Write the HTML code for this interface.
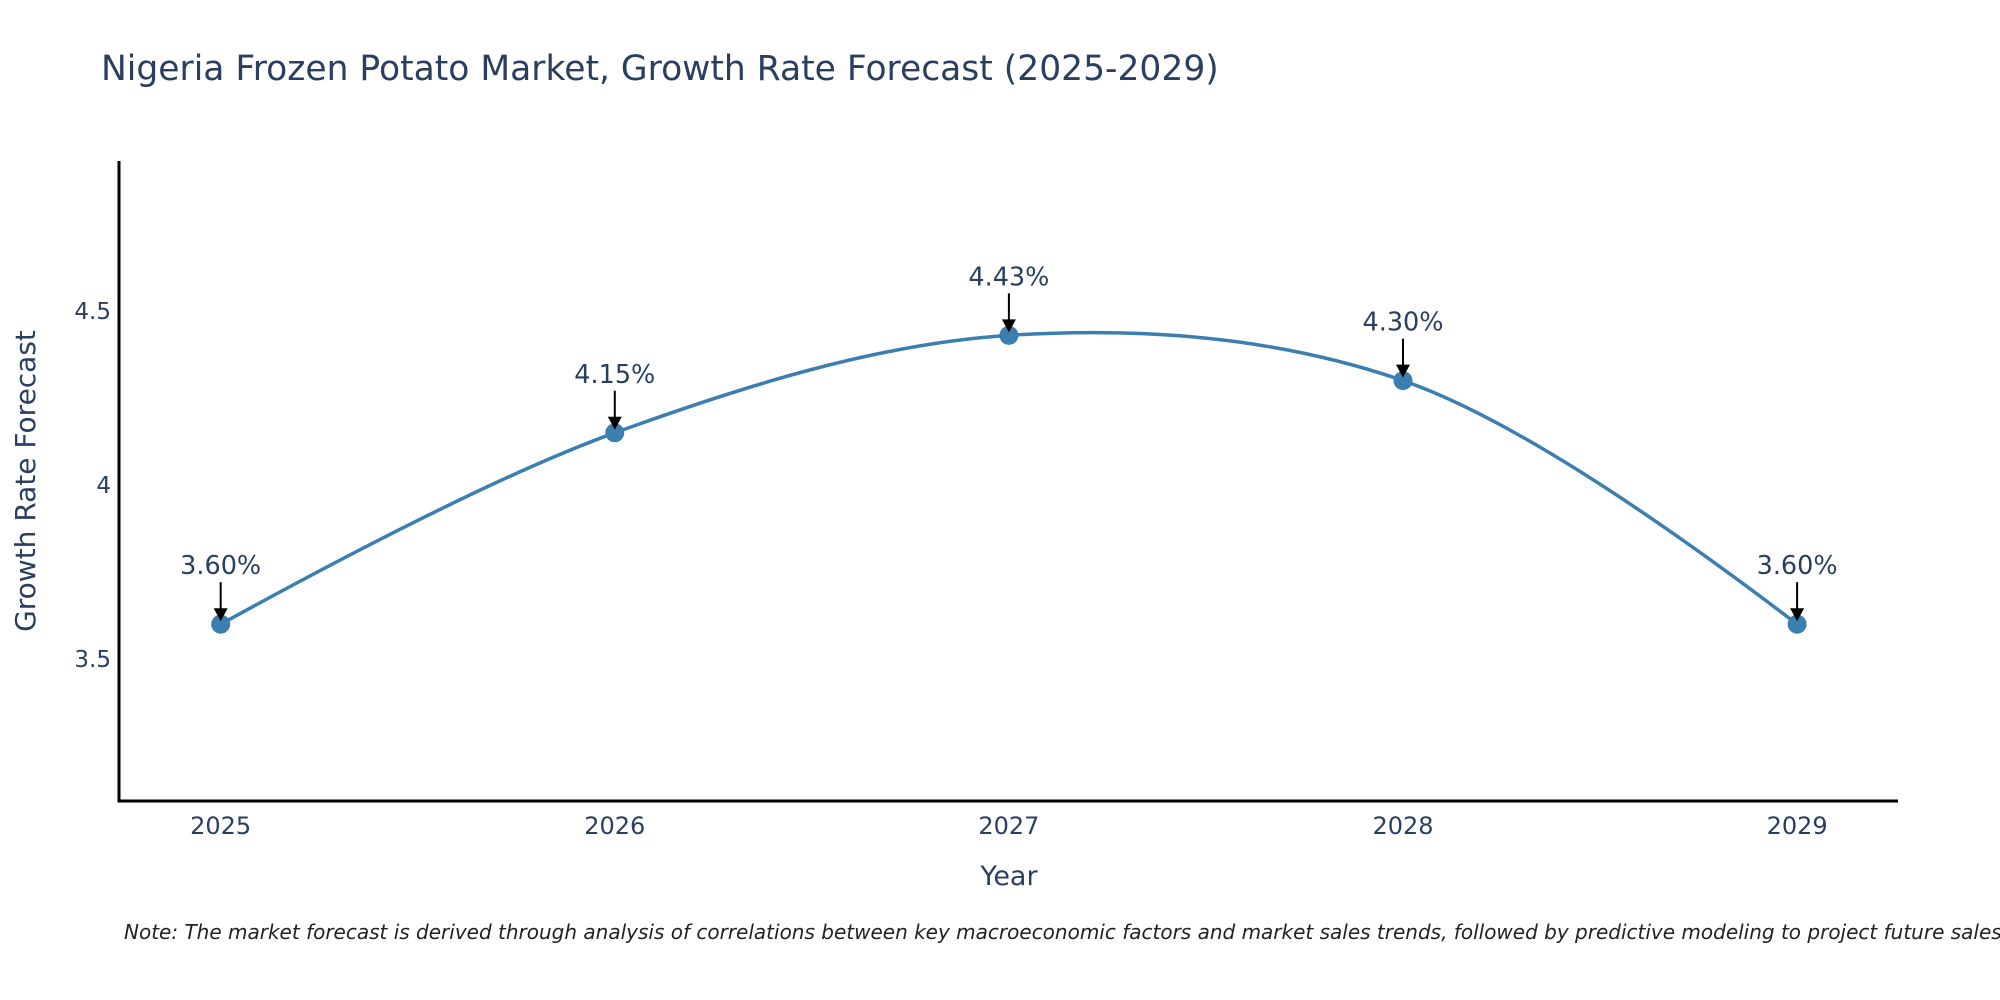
<!DOCTYPE html>
<html><head><meta charset="utf-8"><style>
html,body{margin:0;padding:0;background:#fff;overflow:hidden;}
svg{display:block;font-family:"DejaVu Sans","Liberation Sans",sans-serif;}
</style></head><body>
<svg width="2000" height="1000" viewBox="0 0 2000 1000">
<text x="101" y="80" font-size="34.5" fill="#2a3f5f">Nigeria Frozen Potato Market, Growth Rate Forecast (2025-2029)</text>
<g id="plot"></g>
<text x="1009" y="885" font-size="27" fill="#2a3f5f" text-anchor="middle">Year</text>
<text transform="translate(35,481) rotate(-90)" font-size="28" fill="#2a3f5f" text-anchor="middle">Growth Rate Forecast</text>
<text x="124" y="939" font-size="20" font-style="italic" fill="#222">Note: The market forecast is derived through analysis of correlations between key macroeconomic factors and market sales trends, followed by predictive modeling to project future sales.</text>
</svg>
<script>
const years = [2025, 2026, 2027, 2028, 2029];
const growth = [3.60, 4.15, 4.43, 4.30, 3.60];
const labels = ["3.60%", "4.15%", "4.43%", "4.30%", "3.60%"];
const yTicks = [3.5, 4, 4.5];
const yTickLabels = ["3.5", "4", "4.5"];

const NS = "http://www.w3.org/2000/svg";
const g = document.getElementById('plot');
const L = 119, R = 1898, T = 161, B = 801;
const xMin = 2024.742, xMax = 2029.256, yMin = 3.092, yMax = 4.931;
const xs = v => L + (v - xMin) / (xMax - xMin) * (R - L);
const ys = v => B - (v - yMin) / (yMax - yMin) * (B - T);
function mk(tag, attrs) { const e = document.createElementNS(NS, tag); for (const k in attrs) e.setAttribute(k, attrs[k]); g.appendChild(e); return e; }

let e;
e = mk('line', {x1: L, y1: T, x2: L, y2: B + 1.5, stroke: '#000', 'stroke-width': 3});


e = mk('line', {x1: L - 1.5, y1: B, x2: R, y2: B, stroke: '#000', 'stroke-width': 3});



yTicks.forEach((t, i) => {
  const el = mk('text', {x: L - 8, y: ys(t) + 8, 'font-size': 23, fill: '#2a3f5f', 'text-anchor': 'end'});
  el.textContent = yTickLabels[i];
  
  
});
years.forEach(y => {
  const el = mk('text', {x: xs(y), y: 834, 'font-size': 24, fill: '#2a3f5f', 'text-anchor': 'middle'});
  el.textContent = String(y);
  
  
});

const pts = years.map((y, i) => [xs(y), ys(growth[i])]);
function tangent(p, c, n, s) {
  const d1x = p[0]-c[0], d1y = p[1]-c[1], d2x = n[0]-c[0], d2y = n[1]-c[1];
  const d1a = Math.pow(d1x*d1x+d1y*d1y, 0.25), d2a = Math.pow(d2x*d2x+d2y*d2y, 0.25);
  const nx = (d2a*d2a*d1x - d1a*d1a*d2x)*s, ny = (d2a*d2a*d1y - d1a*d1a*d2y)*s;
  const den1 = 3*d2a*(d1a+d2a), den2 = 3*d1a*(d1a+d2a);
  return [[c[0]+nx/den1, c[1]+ny/den1], [c[0]-nx/den2, c[1]-ny/den2]];
}
const tg = [];
for (let i = 1; i < pts.length - 1; i++) tg.push(tangent(pts[i-1], pts[i], pts[i+1], 1));
let d = 'M' + pts[0] + 'Q' + tg[0][0] + ' ' + pts[1];
for (let i = 2; i < pts.length - 1; i++) d += 'C' + tg[i-2][1] + ' ' + tg[i-1][0] + ' ' + pts[i];
d += 'Q' + tg[pts.length-3][1] + ' ' + pts[pts.length-1];
e = mk('path', {d: d, fill: 'none', stroke: '#3b7fb0', 'stroke-width': 3.5});



pts.forEach((p, i) => {
  const c = mk('circle', {cx: p[0], cy: p[1], r: 9.5, fill: '#3b7fb0'});
  
  
  const a = mk('line', {x1: p[0], y1: p[1] - 42, x2: p[0], y2: p[1] - 14, stroke: '#000', 'stroke-width': 2});
  
  
  const h = mk('path', {d: `M${p[0]-7},${p[1]-16} L${p[0]+7},${p[1]-16} L${p[0]},${p[1]-3} Z`, fill: '#000'});
  
  
  const t = mk('text', {x: p[0], y: p[1] - 50, 'font-size': 25.5, fill: '#2a3f5f', 'text-anchor': 'middle'});
  t.textContent = labels[i];
  
  
});
</script>
</body></html>
